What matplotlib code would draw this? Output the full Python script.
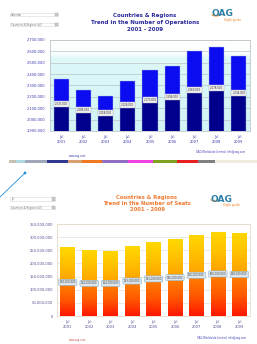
import numpy as np
import matplotlib.pyplot as plt
from matplotlib.patches import Rectangle, Circle, Arc
from matplotlib.colors import LinearSegmentedColormap

# data
years = ['Jul\n2001', 'Jul\n2002', 'Jul\n2003', 'Jul\n2004', 'Jul\n2005',
         'Jul\n2006', 'Jul\n2007', 'Jul\n2008', 'Jul\n2009']
ops_total = [2357000, 2260000, 2208000, 2340000, 2436000, 2471000, 2603000, 2638000, 2559000]
ops_lower = [2137000, 2085000, 2058000, 2129000, 2173000, 2199000, 2260000, 2278000, 2234000]
seats_total = [261e6, 251e6, 246e6, 265e6, 281e6, 292e6, 309e6, 321e6, 316e6]
seats_lower = [128e6, 124e6, 124e6, 133e6, 141e6, 146e6, 155e6, 160e6, 158e6]
ops_ticks = [1900000, 2000000, 2100000, 2200000, 2300000, 2400000, 2500000, 2600000, 2700000]
seat_ticks = [0, 50e6, 100e6, 150e6, 200e6, 250e6, 300e6, 350e6]

W, H = 257, 344
fig = plt.figure(figsize=(W / 100, H / 100), dpi=100)
fig.patch.set_facecolor('white')


def rect(x0, y0, x1, y1):
    return [x0 / W, 1 - y1 / H, (x1 - x0) / W, (y1 - y0) / H]


# decoration layer in pixel coords
deco = fig.add_axes([0, 0, 1, 1])
deco.set_xlim(0, W)
deco.set_ylim(H, 0)
deco.axis('off')


def dropdown(y, label, x1=58):
    deco.add_patch(Rectangle((10, y - 1.8), x1 - 10, 3.6, fc='white', ec='#d8d8d8', lw=0.4))
    deco.add_patch(Rectangle((x1 - 3.5, y - 1.8), 3.5, 3.6, fc='#c8c8c8', ec='#b0b0b0', lw=0.3))
    deco.text(11, y, label, fontsize=1.8, color='#707070', va='center')


def logo(cx, cy):
    deco.text(cx, cy, 'OAG', fontsize=6.5, fontweight='bold', color='#2c7fa8',
              ha='center', va='center')
    deco.add_patch(Arc((cx - 6, cy - 1), 10, 6, theta1=20, theta2=160, color='#f08a20', lw=0.8))
    deco.text(cx + 11, cy + 6, 'flight guide', fontsize=2.2, color='#f08020',
              ha='center', va='center')


# ---- top slide ----
dropdown(14.7, 'Calendar')
dropdown(24.7, 'Countries & Regions (all)')
for i, line in enumerate(['Countries & Regions', 'Trend in the Number of Operations', '2001 - 2009']):
    deco.text(145, 16 + i * 6.6, line, fontsize=4, fontweight='bold', color='#2a2a9a',
              ha='center', va='center')
logo(222, 14)
deco.text(78, 156, 'www.oag.com', fontsize=1.8, color='#3838b0', ha='center', va='center')
deco.text(221, 152, 'OAG Worldwide Limited  info@oag.com', fontsize=1.8, color='#3838b0',
          ha='center', va='center')

strip = [(9, 16, '#c8c0b0'), (16, 25, '#b0d8e0'), (25, 47, '#a0a8b8'), (47, 68, '#303890'),
         (68, 82, '#d8a070'), (82, 102, '#f07820'), (102, 128, '#9070c0'), (128, 153, '#f040e0'),
         (153, 177, '#80a020'), (177, 198, '#e82020'), (198, 215, '#808080'), (215, 257, '#f0ece0')]
for a, b, c in strip:
    deco.add_patch(Rectangle((a, 160), b - a, 3, fc=c, ec='none'))

deco.plot([0, 25], [197, 173], color='#1e90e0', lw=0.6)
deco.add_patch(Circle((25, 173), 1.4, fc='#1e90e0', ec='none'))

# ---- bottom slide ----
dropdown(199, 'Jul', x1=55)
dropdown(207.5, 'Countries & Regions (all)', x1=55)
for i, line in enumerate(['Countries & Regions', 'Trend in the Number of Seats', '2001 - 2009']):
    deco.text(147, 198 + i * 5.6, line, fontsize=3.8, fontweight='bold', color='#f07a30',
              ha='center', va='center')
logo(221, 199)
deco.text(78, 340, 'www.oag.com', fontsize=1.8, color='#d05050', ha='center', va='center')
deco.text(222, 338, 'OAG Worldwide Limited  info@oag.com', fontsize=1.8, color='#3838b0',
          ha='center', va='center')

x = np.arange(len(years))

# ---- operations chart ----
ax1 = fig.add_axes(rect(50, 40, 250, 131))
ax1.set_xlim(-0.5, 8.5)
ax1.set_ylim(ops_ticks[0], ops_ticks[-1])
bg = LinearSegmentedColormap.from_list('bg', [(0, '#d2f4f6'), (0.8, '#def7f8'),
                                               (0.86, '#fbfefe'), (1, '#ffffff')])
ax1.imshow(np.linspace(0, 1, 200).reshape(-1, 1), extent=(-0.5, 8.5, ops_ticks[0], ops_ticks[-1]),
           aspect='auto', cmap=bg, origin='lower', zorder=0)
ax1.bar(x, ops_lower, width=0.68, color='#00008c', edgecolor='#a8b8d8', linewidth=0.3, zorder=3)
ax1.bar(x, np.subtract(ops_total, ops_lower), bottom=ops_lower, width=0.68, color='#0c0cf0',
        edgecolor='#a8b8d8', linewidth=0.3, zorder=3)
for xi, v in zip(x, ops_lower):
    ax1.text(xi, v, f'{v:,}', fontsize=1.9, color='#303030', ha='center', va='center', zorder=5,
             bbox=dict(boxstyle='square,pad=0.35', fc='#eeeeee', ec='#c0c0c0', lw=0.3))
ax1.set_yticks(ops_ticks)
ax1.set_yticklabels([f'{t:,}' for t in ops_ticks])
ax1.set_xticks(x)
ax1.set_xticklabels(years)
ax1.yaxis.grid(True, color='#b8c4c8', lw=0.5)
ax1.set_axisbelow(True)
ax1.tick_params(length=0, labelsize=2.6, labelcolor='#3838b0', pad=3)
for s in ax1.spines.values():
    s.set_color('#c0c8cc')
    s.set_linewidth(0.6)

# ---- seats chart ----
ax2 = fig.add_axes(rect(57, 224, 250, 316))
ax2.set_xlim(-0.5, 8.5)
ax2.set_ylim(seat_ticks[0], seat_ticks[-1])
low_bars = ax2.bar(x, seats_lower, width=0.68, color='none', zorder=3)
up_bars = ax2.bar(x, np.subtract(seats_total, seats_lower), bottom=seats_lower, width=0.68,
                  color='none', zorder=3)
cm_low = LinearSegmentedColormap.from_list('low', ['#ff1800', '#ff5a00', '#ff8200'])
cm_up = LinearSegmentedColormap.from_list('up', ['#ffa000', '#ffc000', '#ffd800'])
grad = np.linspace(0, 1, 100).reshape(-1, 1)
for bars, cm in ((low_bars, cm_low), (up_bars, cm_up)):
    for p in bars:
        x0, y0 = p.get_x(), p.get_y()
        im = ax2.imshow(grad, extent=(x0, x0 + p.get_width(), y0, y0 + p.get_height()),
                        aspect='auto', cmap=cm, origin='lower', zorder=3)
        im.set_clip_path(p)
for xi, v in zip(x, seats_lower):
    ax2.text(xi, v, f'{int(v):,}', fontsize=1.9, color='#404040', ha='center', va='center', zorder=5,
             bbox=dict(boxstyle='round,pad=0.4', fc='#dce6ee', ec='#8fb0c8', lw=0.4))
ax2.set_yticks(seat_ticks)
ax2.set_yticklabels([f'{int(t):,}' for t in seat_ticks])
ax2.set_xticks(x)
ax2.set_xticklabels(years)
ax2.yaxis.grid(True, color='#e4e0d8', lw=0.5)
ax2.set_axisbelow(True)
ax2.tick_params(length=0, labelsize=2.6, labelcolor='#505090', pad=3)
for s in ax2.spines.values():
    s.set_color('#e8dcc8')
    s.set_linewidth(0.6)

fig.savefig('out.png', dpi=100, facecolor='white')
